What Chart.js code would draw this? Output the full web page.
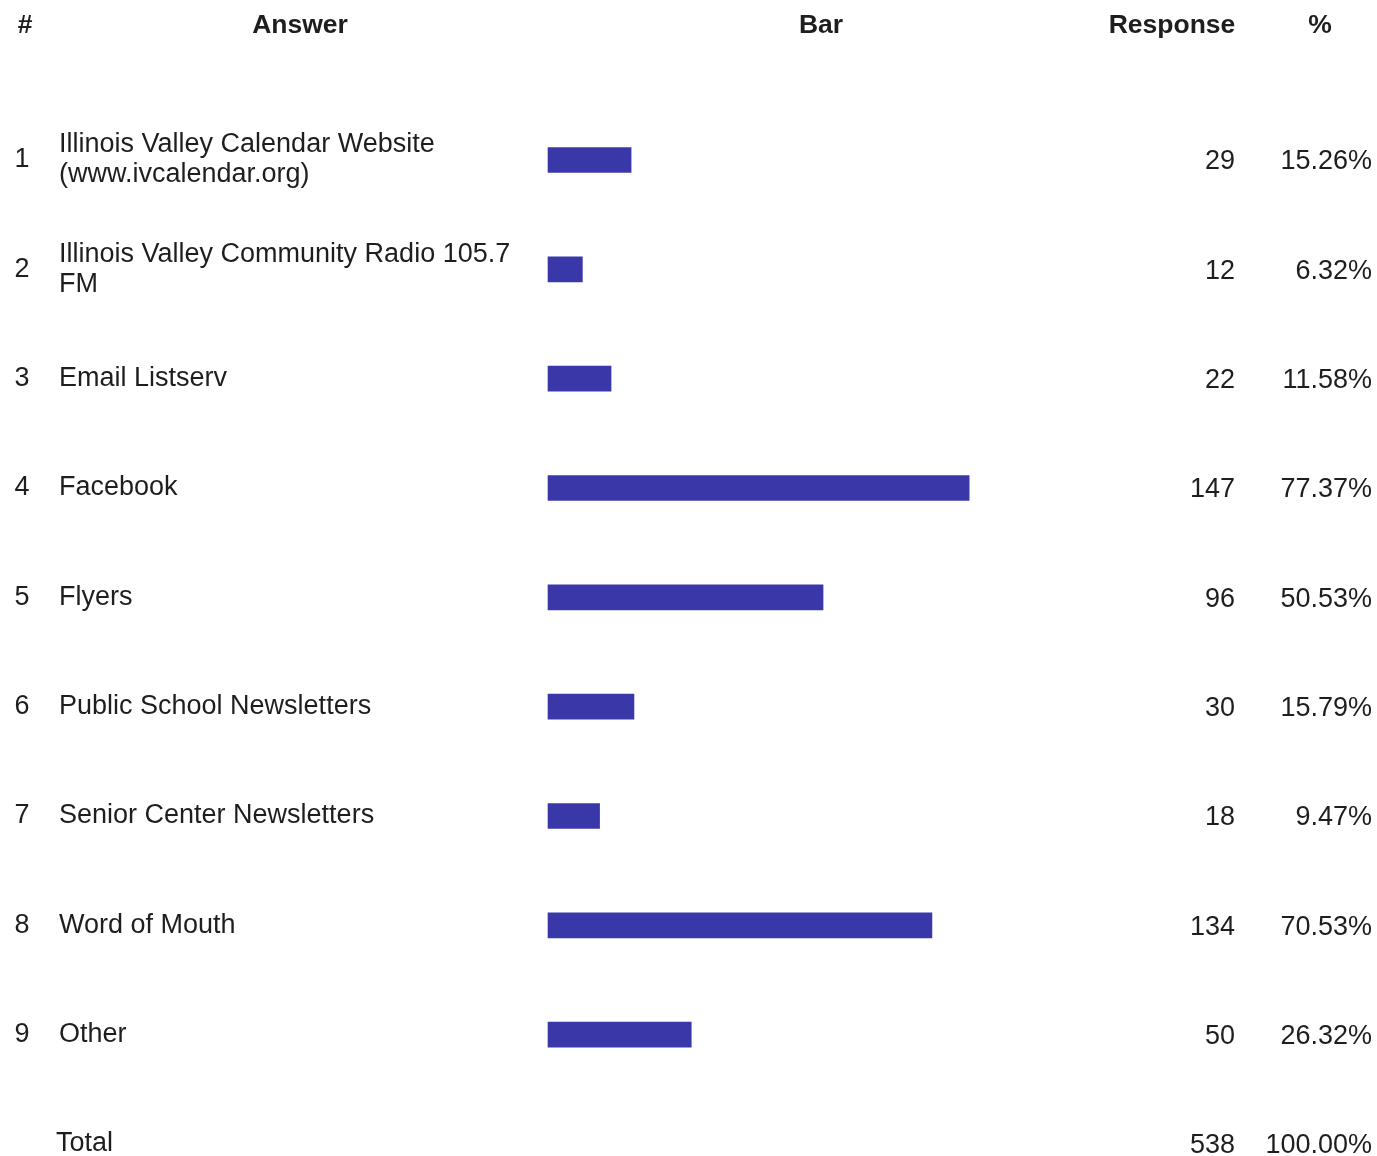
<!DOCTYPE html>
<html>
<head>
<meta charset="utf-8">
<script src="https://cdn.jsdelivr.net/npm/chart.js@4"></script>
<style>
  html, body { margin: 0; padding: 0; background: #ffffff; }
  #wrap { width: 1377px; height: 1156px; position: relative; }
</style>
</head>
<body>
<div id="wrap"><canvas id="c"></canvas></div>
<script>
const answers = [
  'Illinois Valley Calendar Website (www.ivcalendar.org)',
  'Illinois Valley Community Radio 105.7 FM',
  'Email Listserv',
  'Facebook',
  'Flyers',
  'Public School Newsletters',
  'Senior Center Newsletters',
  'Word of Mouth',
  'Other'
];
const responses = [29, 12, 22, 147, 96, 30, 18, 134, 50];
const percents = ['15.26%', '6.32%', '11.58%', '77.37%', '50.53%', '15.79%', '9.47%', '70.53%', '26.32%'];
const totalLabel = 'Total';
const totalResponse = '538';
const totalPercent = '100.00%';
const headers = ['#', 'Answer', 'Bar', 'Response', '%'];

const FONT = '"Liberation Sans", Arial, Helvetica, sans-serif';
const TEXT = '#1e1e1e';

const tablePlugin = {
  id: 'tableText',
  afterDraw(chart) {
    const ctx = chart.ctx;
    const y = chart.scales.y;
    ctx.save();
    ctx.fillStyle = TEXT;
    ctx.textBaseline = 'middle';
    ctx.font = 'bold 26.5px ' + FONT;
    ctx.textAlign = 'center';
    const hy = 26;
    ctx.fillText(headers[0], 25, hy);
    ctx.fillText(headers[1], 300, hy);
    ctx.fillText(headers[2], 821, hy);
    ctx.fillText(headers[3], 1172, hy);
    ctx.fillText(headers[4], 1320, hy);

    ctx.font = '27px ' + FONT;
    const maxW = 475;
    answers.forEach((a, i) => {
      const py = y.getPixelForValue(i);
      ctx.textAlign = 'center';
      ctx.fillText(String(i + 1), 22, py);
      const words = a.split(' ');
      const lines = [];
      let cur = '';
      words.forEach(w => {
        const t = cur ? cur + ' ' + w : w;
        if (ctx.measureText(t).width > maxW && cur) { lines.push(cur); cur = w; }
        else cur = t;
      });
      if (cur) lines.push(cur);
      ctx.textAlign = 'left';
      const lh = 30;
      lines.forEach((l, k) => {
        ctx.fillText(l, 59, py + (k - (lines.length - 1) / 2) * lh);
      });
      ctx.textAlign = 'right';
      ctx.fillText(String(responses[i]), 1235, py + 2);
      ctx.fillText(percents[i], 1372, py + 2);
    });
    const ty = y.getPixelForValue(answers.length);
    ctx.textAlign = 'left';
    ctx.fillText(totalLabel, 56, ty);
    ctx.textAlign = 'right';
    ctx.fillText(totalResponse, 1235, ty + 2);
    ctx.fillText(totalPercent, 1372, ty + 2);
    ctx.restore();
  }
};

new Chart(document.getElementById('c'), {
  type: 'bar',
  data: {
    labels: answers.concat([totalLabel]),
    datasets: [{
      data: responses,
      backgroundColor: '#3a38a8',
      borderColor: '#3a38a8',
      borderWidth: 0,
      barThickness: 25,
      clip: false
    }]
  },
  options: {
    indexAxis: 'y',
    responsive: true,
    maintainAspectRatio: false,
    animation: false,
    layout: { padding: { left: 548, right: 256, top: 160, bottom: 12 } },
    plugins: { legend: { display: false }, tooltip: { enabled: false } },
    scales: {
      x: { display: false, min: 0, max: 200 },
      y: { display: false, offset: false }
    }
  },
  plugins: [tablePlugin]
});
</script>
</body>
</html>
